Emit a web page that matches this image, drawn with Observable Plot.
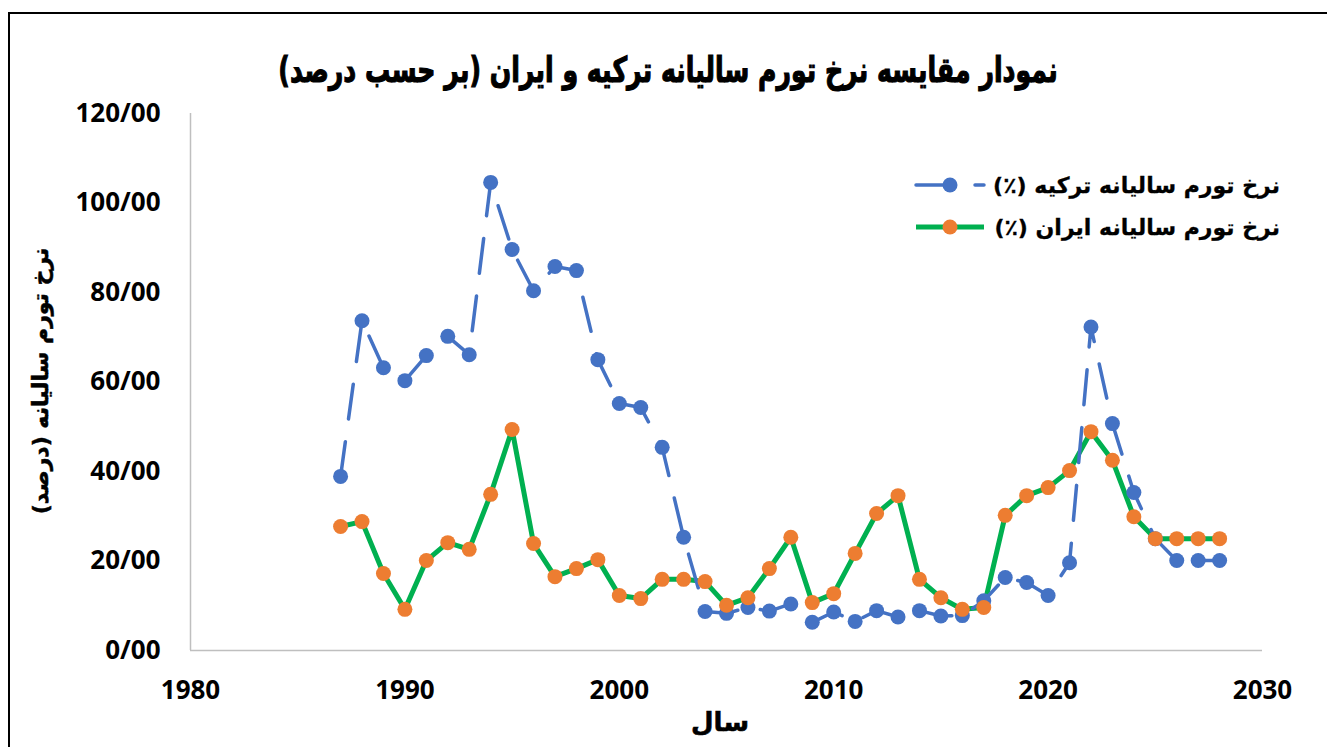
<!DOCTYPE html>
<html>
<head>
<meta charset="utf-8">
<script src="https://cdn.jsdelivr.net/npm/d3@7"></script>
<script src="https://cdn.jsdelivr.net/npm/@observablehq/plot@0.6"></script>
<style>
  html, body { margin:0; padding:0; background:#fff; overflow:hidden; }
  #wrap { position:relative; width:1327px; height:747px; overflow:hidden; }
  #frame { position:absolute; left:8px; top:12px; width:1340px; height:760px; border:2px solid #000; box-sizing:border-box; pointer-events:none; }
  #chart { position:absolute; left:0; top:0; }
  .fa { font-family:"DejaVu Sans", sans-serif; font-weight:700; direction:rtl; color:#000; white-space:nowrap; position:absolute; }
  #title { left:668px; top:70px; font-size:35px; transform:translate(-50%,-50%) scaleX(0.72); -webkit-text-stroke:1.2px #000; }
  #ylabel { left:40px; top:381px; font-size:22px; transform:translate(-50%,-50%) rotate(-90deg); -webkit-text-stroke:0.5px #000; }
  #xlabel { left:720px; top:722px; font-size:26px; transform:translate(-50%,-50%); -webkit-text-stroke:0.6px #000; }
  .leg { position:absolute; font-size:22px; }
</style>
</head>
<body>
<div id="wrap">
  <div id="chart"></div>
  <div id="frame"></div>
  <div id="title" class="fa"></div>
  <div id="ylabel" class="fa"></div>
  <div id="xlabel" class="fa"></div>
  <div id="legend"></div>
</div>
<script>
// ---- data ----
const years = [1987,1988,1989,1990,1991,1992,1993,1994,1995,1996,1997,1998,1999,2000,2001,2002,2003,2004,2005,2006,2007,2008,2009,2010,2011,2012,2013,2014,2015,2016,2017,2018,2019,2020,2021,2022,2023,2024,2025,2026,2027,2028];
const turkey = [38.9,73.7,63.2,60.3,65.9,70.2,66.1,104.6,89.6,80.4,85.8,84.9,65.0,55.2,54.3,45.4,25.3,8.7,8.3,9.6,8.8,10.4,6.3,8.6,6.5,8.9,7.5,8.9,7.7,7.8,11.1,16.3,15.2,12.3,19.6,72.3,50.7,35.3,25.0,20.1,20.1,20.1];
const iran = [27.7,28.8,17.2,9.2,20.1,24.1,22.6,34.9,49.4,23.9,16.5,18.3,20.3,12.3,11.6,15.9,15.9,15.4,10.1,11.8,18.3,25.3,10.7,12.7,21.7,30.6,34.6,15.9,11.8,9.2,9.6,30.2,34.6,36.4,40.2,48.9,42.5,29.9,25.0,25.0,25.0,25.0];
const xTicks = [1980,1990,2000,2010,2020,2030];
const yTicks = [0,20,40,60,80,100,120];
const titleText = "نمودار مقایسه نرخ تورم سالیانه ترکیه و ایران (بر حسب درصد)";
const yLabelText = "نرخ تورم سالیانه (درصد)";
const xLabelText = "سال";
const seriesNames = ["نرخ تورم سالیانه ترکیه (٪)", "نرخ تورم سالیانه ایران (٪)"];
const colors = {turkeyLine:"#4472C4", iranLine:"#00B050", iranDot:"#ED7D31"};

const turkeyData = years.map((y,i)=>({year:y, value:turkey[i]}));
const iranData = years.map((y,i)=>({year:y, value:iran[i]}));

const chart = Plot.plot({
  width:1327, height:747,
  marginLeft:190, marginRight:65, marginTop:113, marginBottom:97,
  x:{domain:[1980,2030]},
  y:{domain:[0,120]},
  style:{fontFamily:"'Open Sans', sans-serif", fontSize:"26px", fontWeight:700, color:"#000", background:"transparent", overflow:"visible"},
  marks:[
    Plot.ruleX([1980],{stroke:"#bfbfbf", strokeWidth:1.5}),
    Plot.ruleY([0],{stroke:"#bfbfbf", strokeWidth:1.5}),
    Plot.axisX({ticks:xTicks, tickSize:0, tickPadding:30, tickFormat:d=>String(d), label:null}),
    Plot.axisY({ticks:yTicks, tickSize:0, tickPadding:30, tickFormat:d=>`${d}/00`, label:null}),
    Plot.line(iranData,{x:"year", y:"value", stroke:colors.iranLine, strokeWidth:5, strokeLinejoin:"round"}),
    Plot.line(turkeyData,{x:"year", y:"value", stroke:colors.turkeyLine, strokeWidth:3.5, strokeDasharray:"35,23", strokeLinecap:"round", strokeLinejoin:"round"}),
    Plot.dot(turkeyData,{x:"year", y:"value", r:7.5, fill:colors.turkeyLine, stroke:"none"}),
    Plot.dot(iranData,{x:"year", y:"value", r:7.5, fill:colors.iranDot, stroke:"none"})
  ]
});
document.getElementById("chart").appendChild(chart);
document.getElementById("title").textContent = titleText;
document.getElementById("ylabel").textContent = yLabelText;
document.getElementById("xlabel").textContent = xLabelText;

// legend
const leg = document.getElementById("legend");
const rows = [
  {name:seriesNames[0], top:185, svg:`<svg width="90" height="20" style="position:absolute;left:912px;top:175px"><line x1="4" y1="10" x2="38" y2="10" stroke="${colors.turkeyLine}" stroke-width="3.5" stroke-linecap="round"/><circle cx="38" cy="10" r="7.5" fill="${colors.turkeyLine}"/><line x1="63" y1="10" x2="72" y2="10" stroke="${colors.turkeyLine}" stroke-width="3.5" stroke-linecap="round"/></svg>`},
  {name:seriesNames[1], top:227, svg:`<svg width="90" height="20" style="position:absolute;left:912px;top:217px"><line x1="4" y1="10" x2="72" y2="10" stroke="${colors.iranLine}" stroke-width="5"/><circle cx="38" cy="10" r="7.5" fill="${colors.iranDot}"/></svg>`}
];
rows.forEach(r=>{
  leg.insertAdjacentHTML("beforeend", r.svg);
  const d = document.createElement("div");
  d.className = "fa leg";
  d.style.right = (1327-1280)+"px";
  d.style.top = r.top+"px";
  d.style.transform = "translateY(-50%)";
  d.style.webkitTextStroke = "0.3px #000";
  d.textContent = r.name;
  leg.appendChild(d);
});
</script>
</body>
</html>
